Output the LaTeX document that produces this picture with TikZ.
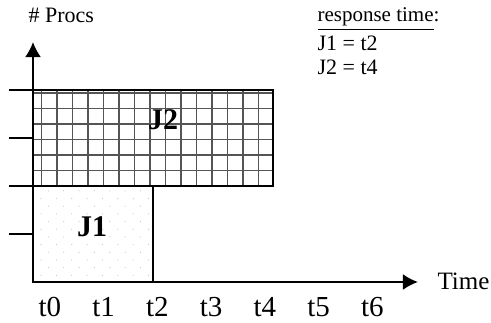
\documentclass[tikz,border=0pt]{standalone}
\usepackage{fontspec}
\setmainfont{Liberation Serif}
\usetikzlibrary{arrows.meta, positioning}
\definecolor{GridGray}{HTML}{555555}
\definecolor{DotGray}{HTML}{C4C4C4}

\begin{document}
\begin{tikzpicture}[x=24pt, y=24pt,
    axisline/.style={line width=1pt, -{Latex[length=7.5pt, width=8pt]}},
    jobbox/.style={line width=1pt},
    joblabel/.style={font=\fontsize{15}{15}\selectfont\bfseries},
    ticklabel/.style={font=\fontsize{14.5}{15}\selectfont, inner sep=0pt},
    infotext/.style={font=\fontsize{11}{12}\selectfont, anchor=base west, inner sep=0pt}]
        \useasboundingbox (-0.6875,-0.8333) rectangle (9.5417,5.875);
        % J2 grid
        \begin{scope}
          \clip (0,2) rectangle (5,4);
          \foreach \k in {0,...,15} \draw[GridGray, line width=0.8pt] (0.18+0.323*\k,2) -- (0.18+0.323*\k,4);
          \foreach \k in {1,...,6} \draw[GridGray, line width=0.8pt] (0,2+0.323*\k) -- (5,2+0.323*\k);
        \end{scope}
        % J1 dots
        \begin{scope}
          \clip (0,0) rectangle (2.5,2);
          \foreach \r in {0,...,11} {
            \pgfmathsetmacro{\xo}{mod(\r,2)==0 ? 0.32 : 0.167}
            \foreach \k in {0,...,7} \fill[DotGray] (\xo+0.32*\k,1.9-0.16*\r) circle (0.3pt);
          }
        \end{scope}
        \draw[jobbox] (0,0) rectangle (2.5,2);
        \draw[jobbox] (0,2) rectangle (5,4);
        \node[joblabel] (j1) at (1.23,1.15) {J1};
        \node[joblabel] (j2) at (2.71,3.375) {J2};
        % axes
        \coordinate (origin) at (0,0);
        \coordinate (xend) at (8.02,0);
        \coordinate (yend) at (0,5.0);
        \draw[axisline] (origin) -- (xend);
        \draw[axisline] (origin) -- (yend);
        \foreach \y in {1,...,4} \draw[line width=1pt] (-0.5,\y) -- (0,\y);
        \node[font=\fontsize{12.5}{13}\selectfont, anchor=west, inner sep=0pt] (time) at (8.42,0.02) {Time};
        \foreach \i in {0,...,6} \node[ticklabel] (t\i) at (0.35+1.12*\i,-0.52) {t\i};
        % captions
        \node[infotext] (procs) at (-0.1,5.4) {\# Procs};
        \node[infotext, font=\fontsize{10.5}{12}\selectfont] (resp) at (5.92,5.417) {\underline{response time}:};
        \node[infotext] (resp1) at (5.92,4.833) {J1 = t2};
        \node[infotext] (resp2) at (5.92,4.333) {J2 = t4};
      \end{tikzpicture}
\end{document}
